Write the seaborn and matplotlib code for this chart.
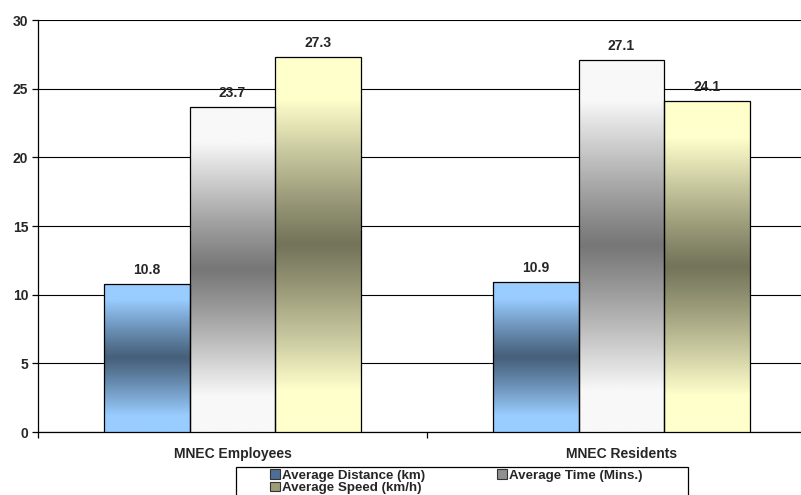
import numpy as np
import pandas as pd
import matplotlib
matplotlib.use("Agg")
import matplotlib.pyplot as plt
import seaborn as sns
from matplotlib.patches import Patch, Rectangle
from matplotlib.colors import to_rgb

categories = ["MNEC Employees", "MNEC Residents"]
series = ["Average Distance (km)", "Average Time (Mins.)", "Average Speed (km/h)"]
distance = [10.8, 10.9]
time_mins = [23.7, 27.1]
speed = [27.3, 24.1]

light_cols = ["#99CCFF", "#F8F8F8", "#FFFFCC"]
dark_cols = ["#46607A", "#777777", "#74745A"]
legend_cols = ["#4F6E95", "#909090", "#9C9C78"]

df = pd.DataFrame({
    "cat": categories * 3,
    "series": [series[0]] * 2 + [series[1]] * 2 + [series[2]] * 2,
    "val": distance + time_mins + speed,
})

sns.set_style("white")
plt.rcParams["font.family"] = ["Liberation Sans", "DejaVu Sans"]
plt.rcParams["font.weight"] = "bold"

FS = 10

fig = plt.figure(figsize=(8.01, 4.95), dpi=100)
ax = fig.add_axes([38 / 801, 63 / 495, 778 / 801, 412 / 495])

sns.barplot(data=df, x="cat", y="val", hue="series", hue_order=series,
            palette=light_cols, width=0.663, edgecolor="black", linewidth=0.9,
            legend=False, ax=ax, zorder=3)

def grad_img(light, dark, n=256):
    t = np.linspace(0, 1, n)
    d = np.abs(t - 0.5) * 2
    m = np.clip(d / 0.78, 0, 1)
    m = m ** 1.1
    l = np.array(to_rgb(light))
    dk = np.array(to_rgb(dark))
    cols = dk[None, :] * (1 - m[:, None]) + l[None, :] * m[:, None]
    return cols[:, None, :]

for i, cont in enumerate(ax.containers):
    img = grad_img(light_cols[i], dark_cols[i])
    for bar in cont:
        x, y = bar.get_x(), bar.get_y()
        w, h = bar.get_width(), bar.get_height()
        im = ax.imshow(img, extent=[x, x + w, y, y + h], origin="lower",
                       aspect="auto", zorder=3.5, interpolation="bilinear")
        im.set_clip_path(bar)
        bar.set_facecolor("none")
        bar.set_zorder(4)
        ax.text(x + w / 2, h + 0.5, f"{h:.1f}", ha="center", va="bottom",
                fontsize=FS, fontweight="bold", zorder=5)

ax.set_xlim(-0.5, 1.5)
ax.set_ylim(0, 30)
ax.set_yticks(range(0, 31, 5))
ax.yaxis.grid(True, color="black", linewidth=0.8)
ax.set_axisbelow(True)
ax.set_xlabel("")
ax.set_ylabel("")
for s in ["top", "right"]:
    ax.spines[s].set_visible(False)
for s in ["left", "bottom"]:
    ax.spines[s].set_color("black")
    ax.spines[s].set_linewidth(0.9)
ax.tick_params(axis="y", length=4, width=0.9, color="black", labelsize=FS, pad=3, left=True)
ax.tick_params(axis="x", which="major", length=0, labelsize=FS, pad=11)
ax.set_xticks([-0.5, 0.5, 1.5], minor=True)
ax.tick_params(axis="x", which="minor", length=4, width=0.9, color="black", bottom=True)
for lab in ax.get_xticklabels() + ax.get_yticklabels():
    lab.set_fontweight("bold")

# legend frame (box runs off the bottom edge like the reference)
fig.patches.append(Rectangle((236 / 801, -0.05), 452 / 801, 0.05 + 28 / 495,
                             transform=fig.transFigure, facecolor="white",
                             edgecolor="black", linewidth=0.9, zorder=1))

handles = [Patch(facecolor=c, edgecolor="#333333", linewidth=0.8) for c in legend_cols]
order = [0, 2, 1]
leg = fig.legend([handles[k] for k in order], [series[k] for k in order],
                 loc="upper left", bbox_to_anchor=(270 / 801, 1 - 469 / 495),
                 ncol=2, frameon=False,
                 prop={"weight": "bold", "size": 9.6}, handlelength=0.75, handleheight=0.75,
                 handletextpad=0.15, columnspacing=5.4, borderpad=0, labelspacing=0.0,
                 borderaxespad=0)
leg.set_zorder(2)

fig.savefig("out.png", dpi=100)
